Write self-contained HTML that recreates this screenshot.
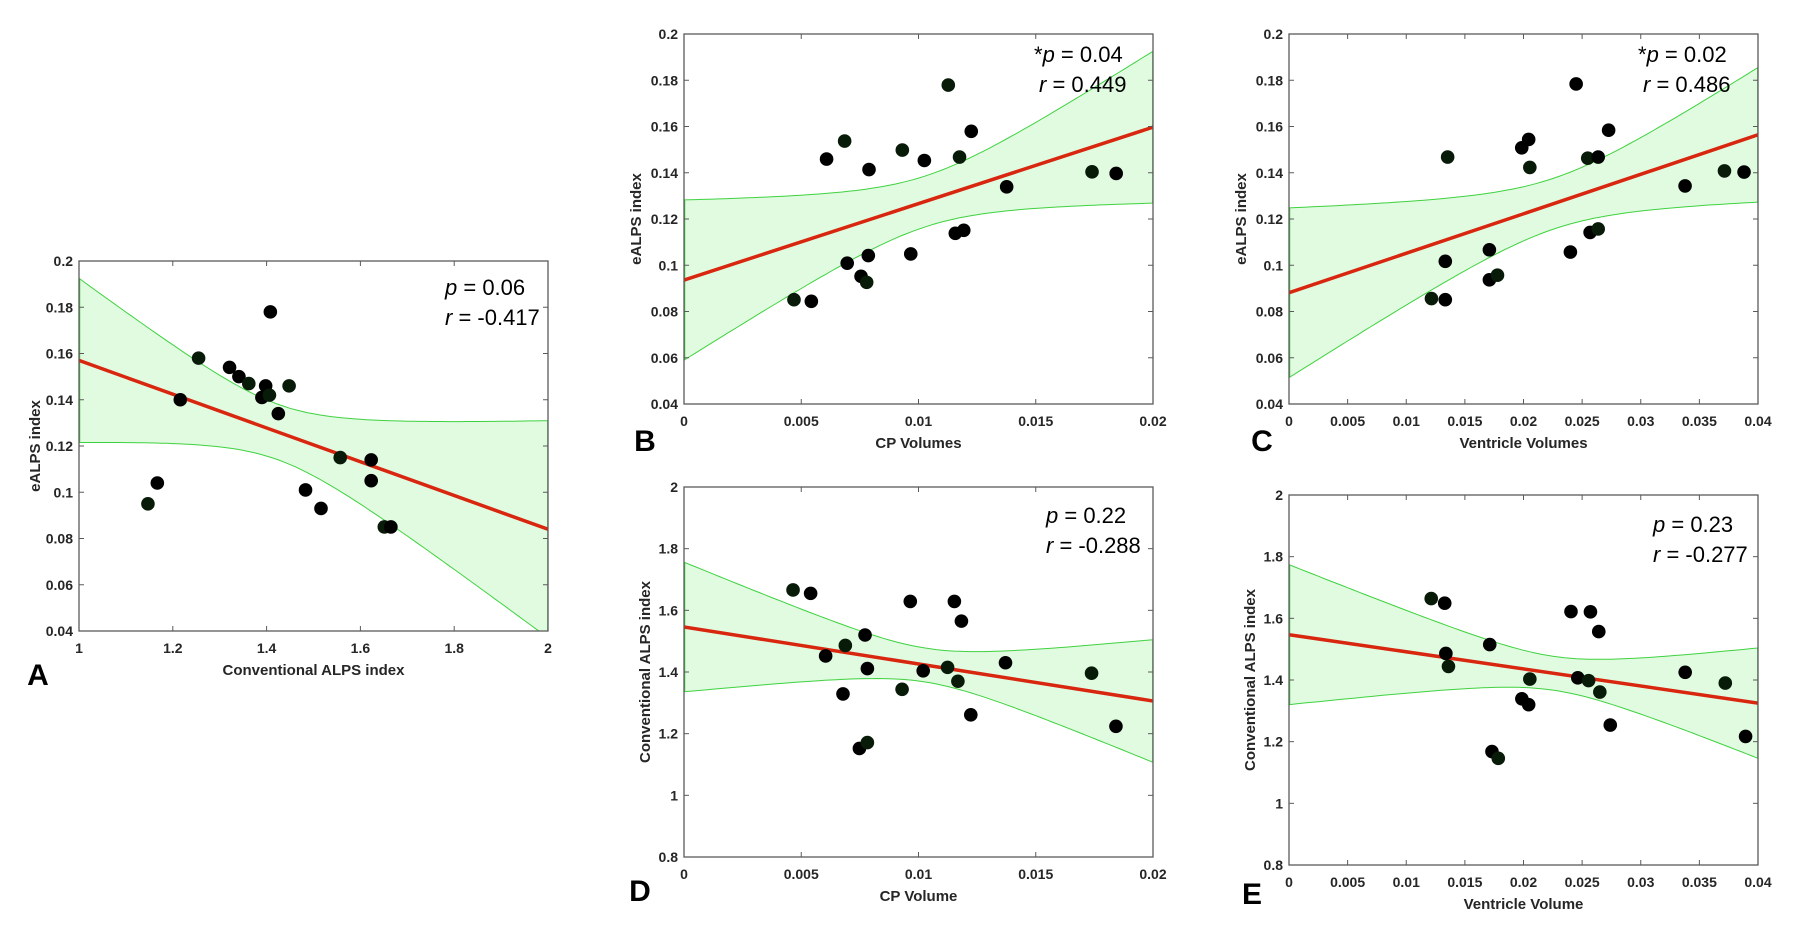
<!DOCTYPE html>
<html><head><meta charset="utf-8"><style>
html,body{margin:0;padding:0;background:#fff;}
svg{display:block;font-family:"Liberation Sans",Arial,sans-serif;}
.tick{font-size:14px;font-weight:bold;fill:#262626;}
.axt{font-size:15px;font-weight:bold;fill:#262626;}
.ann{font-size:22px;fill:#000;}
.lett{font-size:30px;font-weight:bold;fill:#000;}
</style></head><body>
<svg id="fig" width="1816" height="928" viewBox="0 0 1816 928" xmlns="http://www.w3.org/2000/svg"></svg>
<script>
// Panel A data: conventional ALPS (x) vs eALPS (y)
const aX = [1.147,1.167,1.216,1.255,1.321,1.341,1.362,1.398,1.390,1.406,1.408,1.425,1.448,1.483,1.516,1.557,1.623,1.623,1.651,1.665];
const aY = [0.095,0.104,0.140,0.158,0.154,0.150,0.147,0.146,0.141,0.142,0.178,0.134,0.146,0.101,0.093,0.115,0.114,0.105,0.085,0.085];
// Panel B data: CP volume vs eALPS
const bX = [0.00469,0.00543,0.00608,0.00685,0.00696,0.00755,0.00779,0.00786,0.00789,0.00931,0.00967,0.01025,0.01127,0.01157,0.01193,0.01175,0.01225,0.01376,0.0174,0.01843];
const bY = [0.0851,0.0844,0.1459,0.1537,0.1009,0.0952,0.0926,0.1042,0.1414,0.1498,0.1049,0.1453,0.1779,0.1138,0.1151,0.1468,0.1579,0.1339,0.1404,0.1397];
// Panel C data: ventricle volume vs eALPS
const cX = [0.01215,0.01333,0.01333,0.01353,0.01709,0.01709,0.01778,0.01985,0.02044,0.02054,0.0240,0.02449,0.02548,0.02568,0.02637,0.02637,0.02726,0.03378,0.03714,0.03881];
const cY = [0.0856,0.0851,0.1017,0.1468,0.1067,0.0937,0.0957,0.1508,0.1544,0.1423,0.1057,0.1784,0.1463,0.1142,0.1468,0.1157,0.1584,0.1343,0.1408,0.1403];
// Panel D data: CP volume vs conventional ALPS
const dX = [0.00465,0.0054,0.00604,0.00688,0.00678,0.00748,0.00782,0.00772,0.00782,0.0093,0.00965,0.0102,0.01124,0.01153,0.01183,0.01168,0.01223,0.01371,0.01738,0.01842];
const dY = [1.666,1.655,1.452,1.486,1.329,1.152,1.171,1.52,1.411,1.344,1.629,1.404,1.415,1.629,1.565,1.37,1.261,1.43,1.396,1.224];
// Panel E data: ventricle volume vs conventional ALPS
const eX = [0.01213,0.01328,0.01338,0.0136,0.01712,0.01731,0.01785,0.01986,0.02044,0.02054,0.02405,0.02463,0.02555,0.02571,0.02642,0.02651,0.0274,0.03379,0.03721,0.03894];
const eY = [1.664,1.649,1.486,1.444,1.515,1.168,1.146,1.339,1.32,1.403,1.622,1.407,1.398,1.621,1.557,1.361,1.254,1.425,1.39,1.217];
// Fit lines [intercept, slope] and confidence band params [centerX, minHalfWidth, growth]
const aFit = [0.230, -0.073];
const aBand = [1.424, 0.012, 0.0788];
const bFit = [0.0936, 3.305];
const bBand = [0.0103, 0.011, 3.19];
const cFit = [0.0881, 1.7075];
const cBand = [0.0226, 0.011, 1.549];
const dFit = [1.546, -12.0];
const dBand = [0.0103, 0.055, 19.7];
const eFit = [1.547, -5.55];
const eBand = [0.02256, 0.055, 9.76];
// Tick values and labels
const xTicksA = [1,1.2,1.4,1.6,1.8,2];
const xLabelsA = ["1","1.2","1.4","1.6","1.8","2"];
const xTicksB = [0,0.005,0.01,0.015,0.02];
const xLabelsB = ["0","0.005","0.01","0.015","0.02"];
const xTicksC = [0,0.005,0.01,0.015,0.02,0.025,0.03,0.035,0.04];
const xLabelsC = ["0","0.005","0.01","0.015","0.02","0.025","0.03","0.035","0.04"];
const yTicksE = [0.04,0.06,0.08,0.1,0.12,0.14,0.16,0.18,0.2];
const yLabelsE = ["0.04","0.06","0.08","0.1","0.12","0.14","0.16","0.18","0.2"];
const yTicksC = [0.8,1,1.2,1.4,1.6,1.8,2];
const yLabelsC = ["0.8","1","1.2","1.4","1.6","1.8","2"];

const NS = "http://www.w3.org/2000/svg";
const svg = document.getElementById('fig');
function mk(tag, attrs, parent){
  const e = document.createElementNS(NS, tag);
  for (const k in attrs) e.setAttribute(k, attrs[k]);
  (parent||svg).appendChild(e);
  return e;
}

function panel(o){
  const g = mk('g', {});
  
  
  const sx = v => o.L + (v - o.x0) / (o.x1 - o.x0) * (o.R - o.L);
  const sy = v => o.B - (v - o.y0) / (o.y1 - o.y0) * (o.B - o.T);
  const clipId = 'clip-' + o.id;
  const cp = mk('clipPath', {id: clipId}, g);
  mk('rect', {x:o.L, y:o.T, width:o.R-o.L, height:o.B-o.T}, cp);
  const inner = mk('g', {'clip-path':'url(#'+clipId+')'}, g);
  const N = 80, up = [], lo = [];
  for (let i = 0; i <= N; i++){
    const xv = o.x0 + (o.x1 - o.x0) * i / N;
    const yh = o.fit[0] + o.fit[1] * xv;
    const gap = Math.sqrt(o.band[1]*o.band[1] + o.band[2]*o.band[2]*(xv-o.band[0])*(xv-o.band[0]));
    up.push([sx(xv), sy(yh + gap)]);
    lo.push([sx(xv), sy(yh - gap)]);
  }
  const ptsStr = a => a.map(p => p[0].toFixed(1)+','+p[1].toFixed(1)).join(' ');
  const fill = mk('polygon', {points: ptsStr(up.concat(lo.slice().reverse())), fill:'#e1fbe1', stroke:'none'}, inner);
  
  
  const ul = mk('polyline', {points: ptsStr(up), fill:'none', stroke:'#3fd23f', 'stroke-width':1}, inner);
  
  
  const ll = mk('polyline', {points: ptsStr(lo), fill:'none', stroke:'#3fd23f', 'stroke-width':1}, inner);
  
  
  const rv = mk('line', {x1:o.R, y1:up[N][1], x2:o.R, y2:lo[N][1], stroke:'#3fd23f', 'stroke-width':1.5}, inner);
  
  
  const lv = mk('line', {x1:o.L+0.5, y1:up[0][1], x2:o.L+0.5, y2:lo[0][1], stroke:'#3fd23f', 'stroke-width':1.5}, inner);
  
  
  const fl = mk('line', {x1:sx(o.x0), y1:sy(o.fit[0]+o.fit[1]*o.x0), x2:sx(o.x1), y2:sy(o.fit[0]+o.fit[1]*o.x1), stroke:'#d8260f', 'stroke-width':3.5}, inner);
  
  
  for (let i = 0; i < o.xs.length; i++){
    const c = mk('circle', {cx:sx(o.xs[i]), cy:sy(o.ys[i]), r:6.8, fill: (i%3===0)?'#081a08':'#000'}, g);
    
    
  }
  const box = mk('rect', {x:o.L, y:o.T, width:o.R-o.L, height:o.B-o.T, fill:'none', stroke:'#5a5a5a', 'stroke-width':1.3}, g);
  
  
  o.xt.forEach((t, i) => {
    const x = sx(t);
    mk('line', {x1:x, y1:o.B, x2:x, y2:o.B-5, stroke:'#5a5a5a', 'stroke-width':1}, g);
    mk('line', {x1:x, y1:o.T, x2:x, y2:o.T+5, stroke:'#5a5a5a', 'stroke-width':1}, g);
    const tx = mk('text', {x:x, y:o.B+22, 'text-anchor':'middle', class:'tick'}, g);
    tx.textContent = o.xl[i];
    
    
  });
  o.yt.forEach((t, i) => {
    const y = sy(t);
    mk('line', {x1:o.L, y1:y, x2:o.L+5, y2:y, stroke:'#5a5a5a', 'stroke-width':1}, g);
    mk('line', {x1:o.R, y1:y, x2:o.R-5, y2:y, stroke:'#5a5a5a', 'stroke-width':1}, g);
    const ty = mk('text', {x:o.L-6, y:y+5, 'text-anchor':'end', class:'tick'}, g);
    ty.textContent = o.yl[i];
    
    
  });
  const xt = mk('text', {x:(o.L+o.R)/2, y:o.B+44, 'text-anchor':'middle', class:'axt'}, g);
  xt.textContent = o.xtitle;
  
  
  const yx = o.ytx, yy = (o.T+o.B)/2;
  const yt = mk('text', {x:yx, y:yy, 'text-anchor':'middle', class:'axt', transform:'rotate(-90 '+yx+' '+yy+')', dy:'5'}, g);
  yt.textContent = o.ytitle;
  
  
  const p = mk('text', {x:o.ax, y:o.ay, class:'ann'}, g);
  p.innerHTML = (o.star?'*':'') + '<tspan font-style="italic">p</tspan> = ' + o.pv;
  
  
  const r = mk('text', {x:o.ax + (o.star?5:0), y:o.ay+30, class:'ann'}, g);
  r.innerHTML = '<tspan font-style="italic">r</tspan> = ' + o.rv;
  
  
  const lt = mk('text', {x:o.lx, y:o.ly, 'text-anchor':'middle', class:'lett'}, g);
  lt.textContent = o.id;
  
  
}

panel({id:'A', L:79, R:548, T:261, B:631, x0:1, x1:2, y0:0.04, y1:0.2, xs:aX, ys:aY, fit:aFit, band:aBand,
  xt:xTicksA, xl:xLabelsA, yt:yTicksE, yl:yLabelsE, xtitle:'Conventional ALPS index', ytitle:'eALPS index', ytx:35,
  ax:445, ay:295, pv:'0.06', rv:'-0.417', star:false, lx:38, ly:685});
panel({id:'B', L:684, R:1153, T:34, B:404, x0:0, x1:0.02, y0:0.04, y1:0.2, xs:bX, ys:bY, fit:bFit, band:bBand,
  xt:xTicksB, xl:xLabelsB, yt:yTicksE, yl:yLabelsE, xtitle:'CP Volumes', ytitle:'eALPS index', ytx:636,
  ax:1034, ay:62, pv:'0.04', rv:'0.449', star:true, lx:645, ly:451});
panel({id:'C', L:1289, R:1758, T:34, B:404, x0:0, x1:0.04, y0:0.04, y1:0.2, xs:cX, ys:cY, fit:cFit, band:cBand,
  xt:xTicksC, xl:xLabelsC, yt:yTicksE, yl:yLabelsE, xtitle:'Ventricle Volumes', ytitle:'eALPS index', ytx:1241,
  ax:1638, ay:62, pv:'0.02', rv:'0.486', star:true, lx:1262, ly:451});
panel({id:'D', L:684, R:1153, T:487, B:857, x0:0, x1:0.02, y0:0.8, y1:2, xs:dX, ys:dY, fit:dFit, band:dBand,
  xt:xTicksB, xl:xLabelsB, yt:yTicksC, yl:yLabelsC, xtitle:'CP Volume', ytitle:'Conventional ALPS index', ytx:645,
  ax:1046, ay:523, pv:'0.22', rv:'-0.288', star:false, lx:640, ly:901});
panel({id:'E', L:1289, R:1758, T:495, B:865, x0:0, x1:0.04, y0:0.8, y1:2, xs:eX, ys:eY, fit:eFit, band:eBand,
  xt:xTicksC, xl:xLabelsC, yt:yTicksC, yl:yLabelsC, xtitle:'Ventricle Volume', ytitle:'Conventional ALPS index', ytx:1250,
  ax:1653, ay:532, pv:'0.23', rv:'-0.277', star:false, lx:1252, ly:904});
</script>
</body></html>
